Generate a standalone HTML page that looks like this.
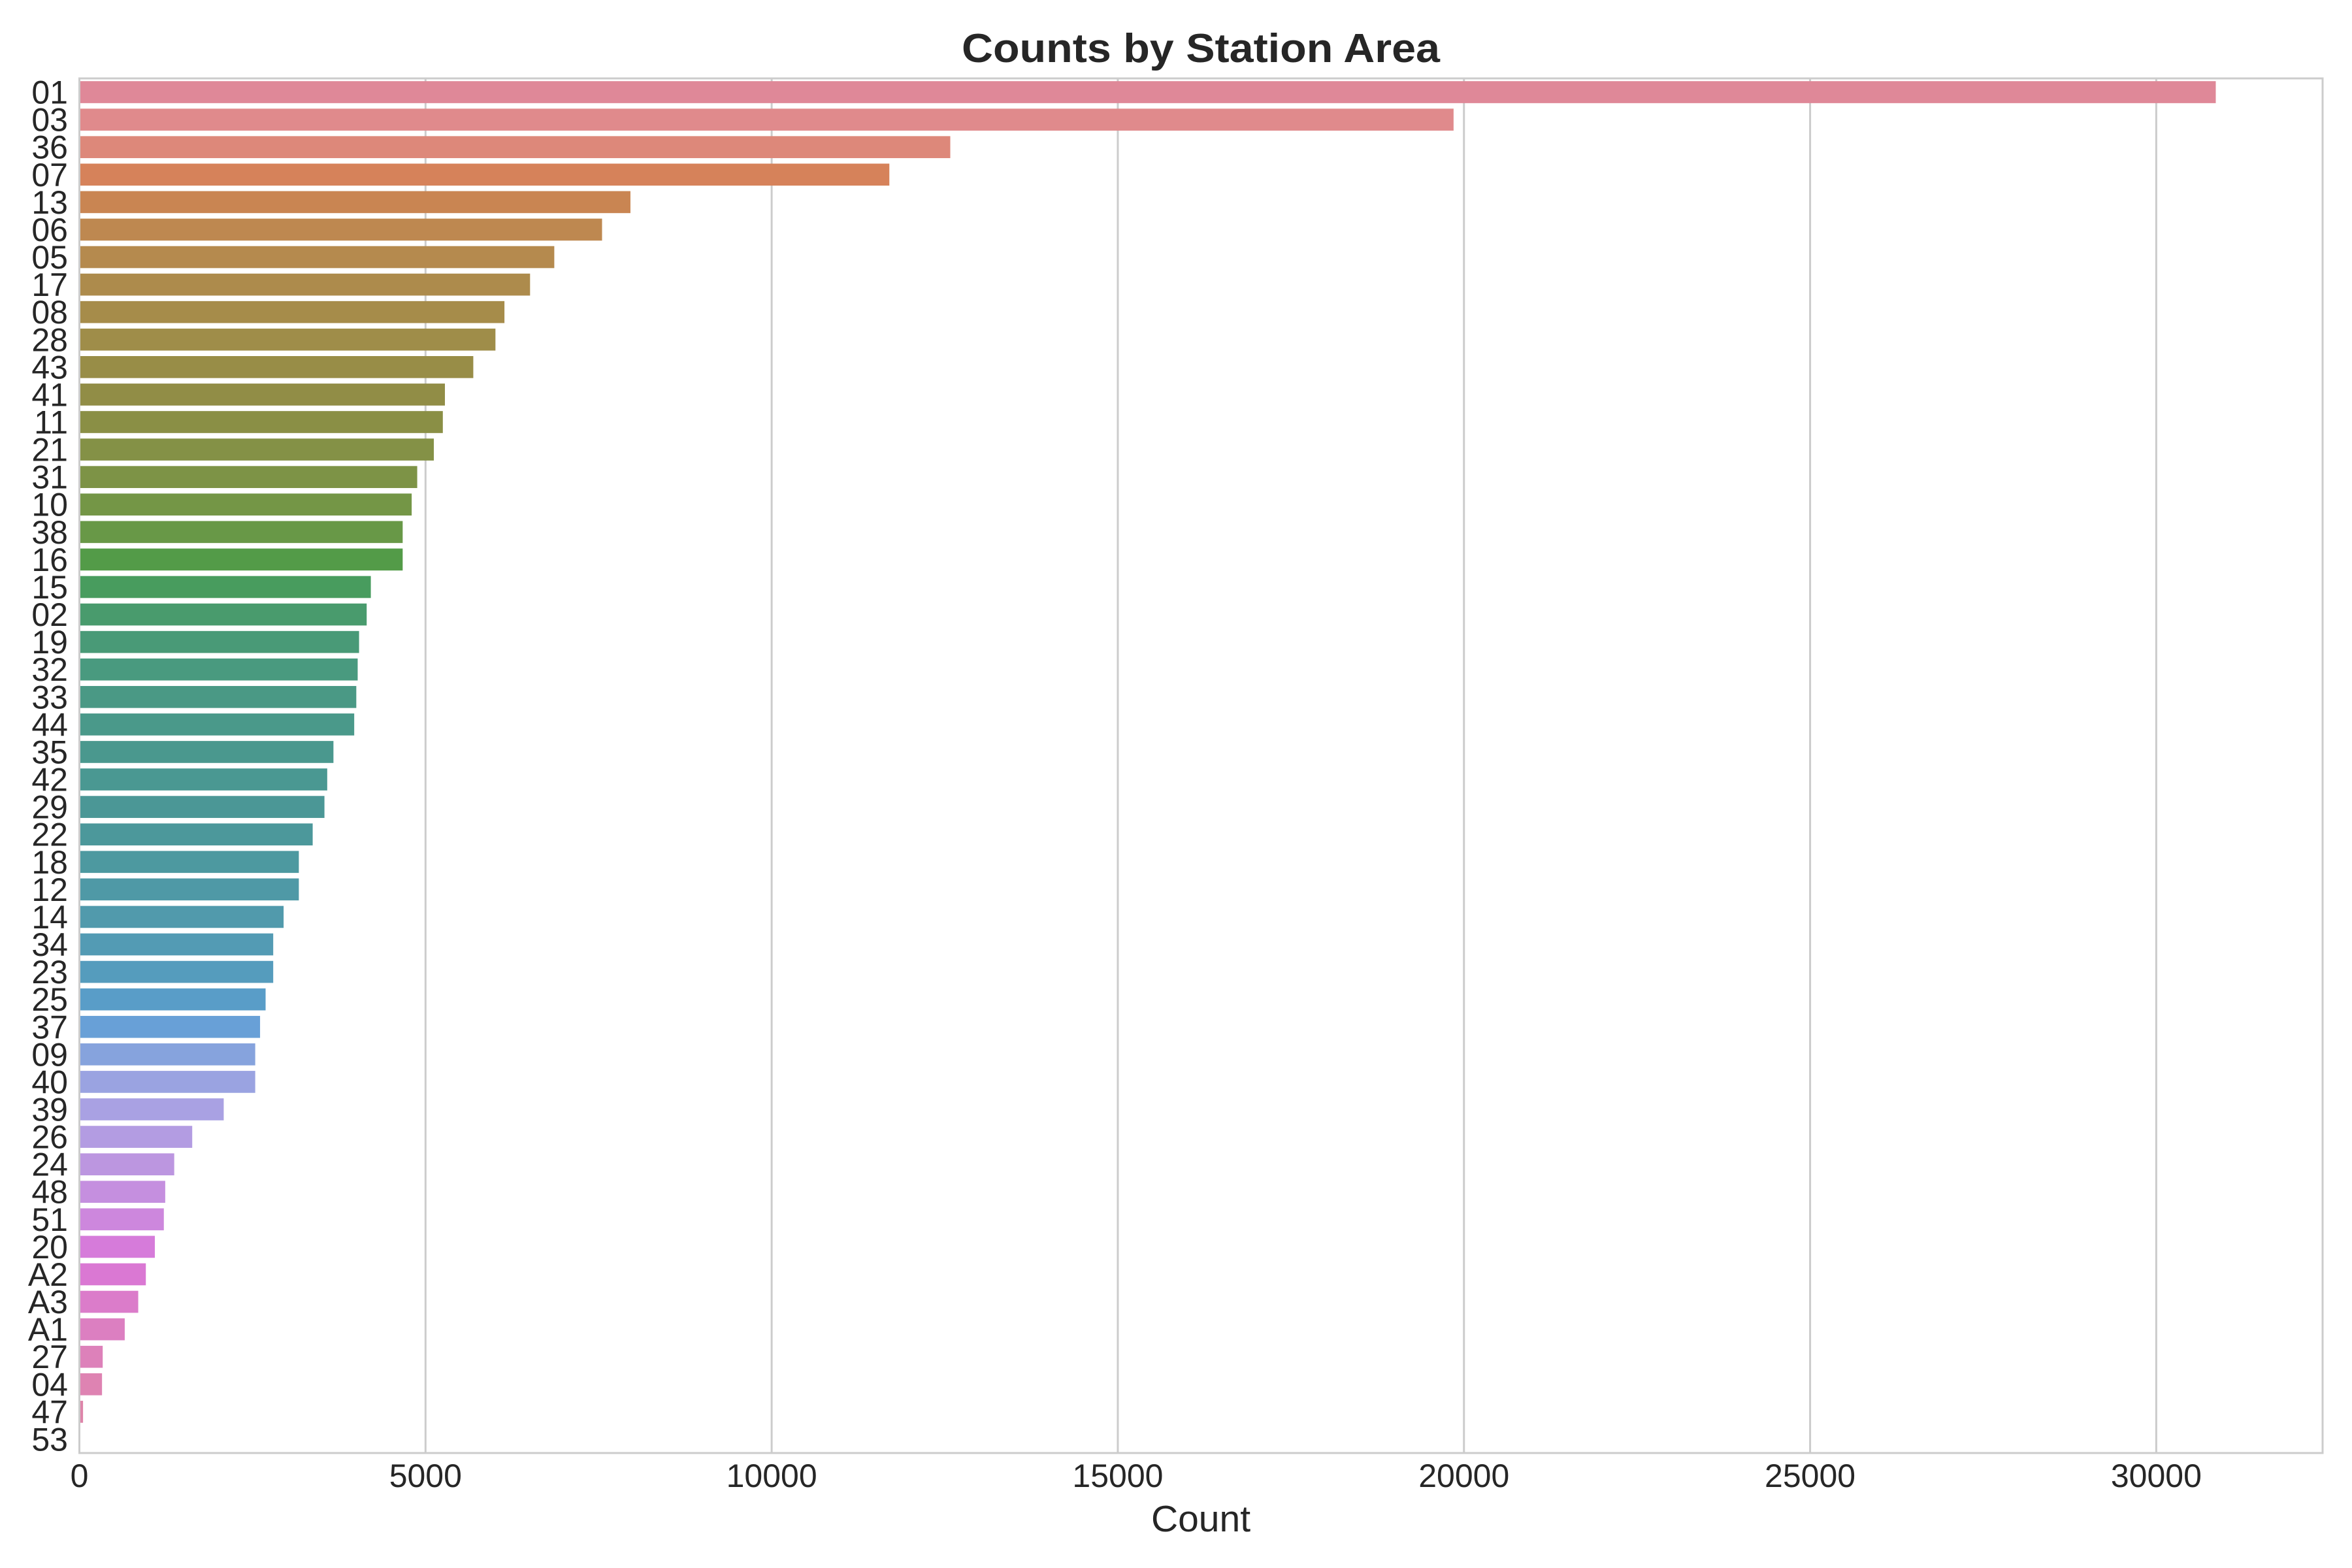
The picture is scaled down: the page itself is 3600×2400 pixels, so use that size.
<!DOCTYPE html>
<html><head><meta charset="utf-8"><style>
html,body{margin:0;padding:0;background:#fff;}
svg{display:block;}
text{font-family:"Liberation Sans",Arial,sans-serif;fill:#262626;}
</style></head><body>
<svg id="chart" width="3600" height="2400" viewBox="0 0 3600 2400" xmlns="http://www.w3.org/2000/svg">
<rect width="3600" height="2400" fill="#fff"/>
<g id="grid"></g>
<g id="bars"></g>
<g id="spines"></g>
<g id="yticks"></g>
<g id="xticks"></g>
<text x="1838" y="95" text-anchor="middle" font-size="62" font-weight="bold" textLength="732" lengthAdjust="spacingAndGlyphs">Counts by Station Area</text>
<text x="1838" y="2344" text-anchor="middle" font-size="57">Count</text>
</svg>
<script>
const categories = ["01","03","36","07","13","06","05","17","08","28","43","41","11","21","31","10","38","16","15","02","19","32","33","44","35","42","29","22","18","12","14","34","23","25","37","09","40","39","26","24","48","51","20","A2","A3","A1","27","04","47","53"];
const counts = [30860,19850,12580,11700,7960,7550,6860,6510,6140,6010,5690,5280,5250,5120,4880,4800,4670,4670,4210,4150,4040,4020,4000,3970,3670,3580,3540,3370,3170,3170,2950,2800,2800,2690,2610,2540,2540,2085,1630,1370,1240,1220,1090,960,850,655,337,327,53,0];
const xTicks = [0,5000,10000,15000,20000,25000,30000];

const NS = "http://www.w3.org/2000/svg";
const L = 121.5, R = 3555, T = 120, B = 2224;
const xMax = Math.max(...counts) * 1.05;
const xs = v => L + v / xMax * (R - L);
const band = (B - T) / categories.length;
const yc = i => T + band * (i + 0.5);

const M = [[3.240969941904521,-1.537383177570093,-0.498610760293],[-0.96924363628087,1.87596750150772,0.041555057407175],[0.055630079696993,-0.20397695888897,1.056971514242878]];
const refU=0.19783000664283, refV=0.46831999493879, kappa=903.2962962, eps=0.0088564516;
function bounds(Lv){const r=[];const s1=Math.pow(Lv+16,3)/1560896;const s2=s1>eps?s1:Lv/kappa;
 for(let c=0;c<3;c++){const [m1,m2,m3]=M[c];for(let t=0;t<2;t++){const top1=(284517*m1-94839*m3)*s2;const top2=(838422*m3+769860*m2+731718*m1)*Lv*s2-769860*t*Lv;const bot=(632260*m3-126452*m2)*s2+126452*t;r.push([top1/bot,top2/bot]);}}return r;}
function maxC(Lv,H){const h=H/360*2*Math.PI;let mn=Infinity;for(const [m,b] of bounds(Lv)){const len=b/(Math.sin(h)-m*Math.cos(h));if(len>=0)mn=Math.min(mn,len);}return mn;}
function husl(H,S,Lv){const C=maxC(Lv,H)/100*S;const h=H/360*2*Math.PI;const U=C*Math.cos(h),V=C*Math.sin(h);
 const vu=U/(13*Lv)+refU, vv=V/(13*Lv)+refV;const Y=Lv<=8?Lv/kappa:Math.pow((Lv+16)/116,3);
 const X=0-(9*Y*vu)/((vu-4)*vv-vu*vv);const Z=(9*Y-15*vv*Y-vv*X)/(3*vv);
 return M.map(r=>{let c=r[0]*X+r[1]*Y+r[2]*Z;c=c<=0.0031308?12.92*c:1.055*Math.pow(c,1/2.4)-0.055;return Math.min(1,Math.max(0,c));});}
function rgb2hls(r,g,b){const mx=Math.max(r,g,b),mn=Math.min(r,g,b);const l=(mx+mn)/2;if(mx===mn)return[0,l,0];
 const d=mx-mn;const s=l<=0.5?d/(mx+mn):d/(2-mx-mn);let h;const rc=(mx-r)/d,gc=(mx-g)/d,bc=(mx-b)/d;
 if(r===mx)h=bc-gc;else if(g===mx)h=2+rc-bc;else h=4+gc-rc;h=((h/6)%1+1)%1;return[h,l,s];}
function hls2rgb(h,l,s){if(s===0)return[l,l,l];const m2=l<=0.5?l*(1+s):l+s-l*s;const m1=2*l-m2;
 const v=hh=>{hh=((hh%1)+1)%1;if(hh<1/6)return m1+(m2-m1)*hh*6;if(hh<0.5)return m2;if(hh<2/3)return m1+(m2-m1)*(2/3-hh)*6;return m1;};
 return[v(h+1/3),v(h),v(h-1/3)];}
function color(i,n){const hue=((i/n+0.01)%1)*359;const [r,g,b]=husl(hue,89.1,64.35);const [h,l,s]=rgb2hls(r,g,b);const c=hls2rgb(h,l,s*0.65);
 return "rgb("+c.map(x=>Math.round(x*255)).join(",")+")";}

const grid=document.getElementById("grid"), bars=document.getElementById("bars"), yt=document.getElementById("yticks"), xt=document.getElementById("xticks"), sp=document.getElementById("spines");
xTicks.forEach(v=>{
 const ln=document.createElementNS(NS,"line");
 
 
 ln.setAttribute("x1",xs(v));ln.setAttribute("x2",xs(v));ln.setAttribute("y1",T);ln.setAttribute("y2",B);
 ln.setAttribute("stroke","#cccccc");ln.setAttribute("stroke-width","3");
 grid.appendChild(ln);
 const tx=document.createElementNS(NS,"text");
 
 
 tx.setAttribute("x",xs(v));tx.setAttribute("y",2276);tx.setAttribute("text-anchor","middle");tx.setAttribute("font-size","50");
 tx.textContent=v;xt.appendChild(tx);
});
const bh=band*0.8;
categories.forEach((c,i)=>{
 const r=document.createElementNS(NS,"rect");
 
 
 r.setAttribute("x",xs(0));r.setAttribute("y",yc(i)-bh/2);
 r.setAttribute("width",Math.max(0,xs(counts[i])-xs(0)));r.setAttribute("height",bh);
 r.setAttribute("fill",color(i,categories.length));
 bars.appendChild(r);
 const tx=document.createElementNS(NS,"text");
 
 
 tx.setAttribute("x",104);tx.setAttribute("y",yc(i)+17.5);tx.setAttribute("text-anchor","end");tx.setAttribute("font-size","50");
 tx.textContent=c;yt.appendChild(tx);
});
const fr=document.createElementNS(NS,"rect");


fr.setAttribute("x",L);fr.setAttribute("y",T);fr.setAttribute("width",R-L);fr.setAttribute("height",B-T);
fr.setAttribute("fill","none");fr.setAttribute("stroke","#cccccc");fr.setAttribute("stroke-width","3");
sp.appendChild(fr);
</script>
</body></html>
